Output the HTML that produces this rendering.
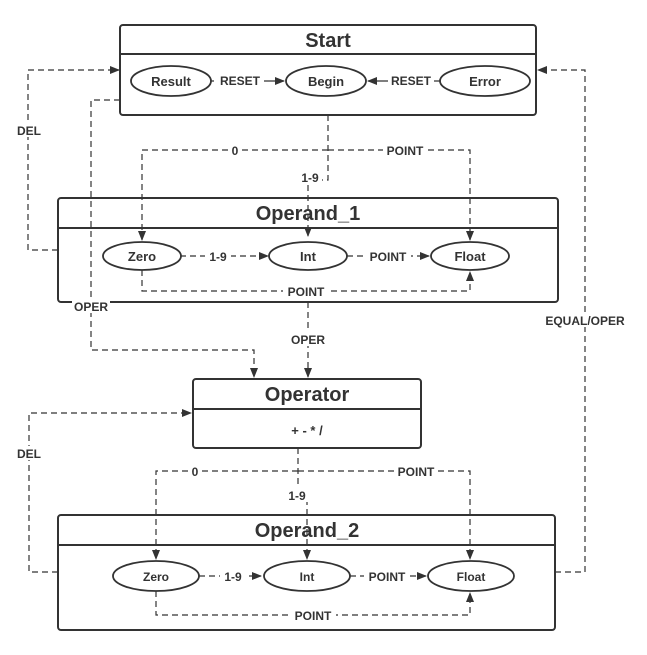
<!DOCTYPE html>
<html><head><meta charset="utf-8"><style>
html,body{margin:0;padding:0;background:#fff;}
svg{display:block;font-family:"Liberation Sans",sans-serif;font-weight:bold;}
</style></head><body>
<svg width="647" height="655" viewBox="0 0 647 655" xmlns="http://www.w3.org/2000/svg">
<defs>
<marker id="a" markerWidth="10" markerHeight="8" refX="9" refY="4" orient="auto" markerUnits="userSpaceOnUse">
<path d="M0,0 L10,4 L0,8 z" fill="#333"/></marker>
</defs>
<g fill="none" stroke="#333" stroke-width="1.2" stroke-dasharray="6,4">
<path d="M58,250 H28 V70 H119" marker-end="url(#a)"/>
<path d="M555,572 H585 V70 H538" marker-end="url(#a)"/>
<path d="M120,100 H91 V350 H254 V377" marker-end="url(#a)"/>
<path d="M328,115 V180 H308 V236" marker-end="url(#a)"/>
<path d="M328,150 H142 V240" marker-end="url(#a)"/>
<path d="M328,150 H470 V240" marker-end="url(#a)"/>
<path d="M180,256 H268" marker-end="url(#a)"/>
<path d="M347,256 H429" marker-end="url(#a)"/>
<path d="M142,270 V291 H470 V272" marker-end="url(#a)"/>
<path d="M308,302 V377" marker-end="url(#a)"/>
<path d="M58,572 H29 V413 H191" marker-end="url(#a)"/>
<path d="M298,448 V490 H307 V559" marker-end="url(#a)"/>
<path d="M298,471 H156 V559" marker-end="url(#a)"/>
<path d="M298,471 H470 V559" marker-end="url(#a)"/>
<path d="M199,576 H261" marker-end="url(#a)"/>
<path d="M350,576 H426" marker-end="url(#a)"/>
<path d="M156,591 V615 H470 V593" marker-end="url(#a)"/>
</g>
<g fill="none" stroke="#333" stroke-width="1.2">
<path d="M131,81 H140" /><path d="M211,81 H284" marker-end="url(#a)"/>
<path d="M440,81 H368" marker-end="url(#a)"/>
</g>
<g fill="#fff" stroke="#333" stroke-width="2">
<rect x="120" y="25" width="416" height="90" rx="3" fill="none"/>
<line x1="120" y1="54" x2="536" y2="54"/>
<rect x="58" y="198" width="500" height="104" rx="3" fill="none"/>
<line x1="58" y1="228" x2="558" y2="228"/>
<rect x="193" y="379" width="228" height="69" rx="3"/>
<line x1="193" y1="409" x2="421" y2="409"/>
<rect x="58" y="515" width="497" height="115" rx="3" fill="none"/>
<line x1="58" y1="545" x2="555" y2="545"/>
</g>
<g fill="#fff" stroke="#333" stroke-width="1.8">
<ellipse cx="171" cy="81" rx="40" ry="15"/>
<ellipse cx="326" cy="81" rx="40" ry="15"/>
<ellipse cx="485" cy="81" rx="45" ry="15"/>
<ellipse cx="142" cy="256" rx="39" ry="14"/>
<ellipse cx="308" cy="256" rx="39" ry="14"/>
<ellipse cx="470" cy="256" rx="39" ry="14"/>
<ellipse cx="156" cy="576" rx="43" ry="15"/>
<ellipse cx="307" cy="576" rx="43" ry="15"/>
<ellipse cx="471" cy="576" rx="43" ry="15"/>
</g>
<g fill="#333" text-anchor="middle">
<text x="328" y="47" font-size="20">Start</text>
<text x="308" y="220" font-size="20">Operand_1</text>
<text x="307" y="401" font-size="20">Operator</text>
<text x="307" y="537" font-size="20">Operand_2</text>
<text x="307" y="435" font-size="13">+ - * /</text>
<g font-size="13">
<text x="171" y="86">Result</text><text x="326" y="86">Begin</text><text x="485" y="86">Error</text>
<text x="142" y="261">Zero</text><text x="308" y="261">Int</text><text x="470" y="261">Float</text>
</g>
<g font-size="12">
<text x="156" y="581">Zero</text><text x="307" y="581">Int</text><text x="471" y="581">Float</text>
</g>
</g>
<g fill="#333" font-size="12" text-anchor="middle">
<rect x="214" y="74" width="50" height="14" fill="#fff"/><text x="240" y="85">RESET</text>
<rect x="388" y="74" width="46" height="14" fill="#fff"/><text x="411" y="85">RESET</text>
<rect x="15" y="123" width="28" height="14" fill="#fff"/><text x="29" y="135">DEL</text>
<rect x="229" y="143" width="12" height="14" fill="#fff"/><text x="235" y="155">0</text>
<rect x="383" y="143" width="44" height="14" fill="#fff"/><text x="405" y="155">POINT</text>
<rect x="298" y="170" width="24" height="14" fill="#fff"/><text x="310" y="182">1-9</text>
<rect x="205" y="249" width="26" height="14" fill="#fff"/><text x="218" y="261">1-9</text>
<rect x="365" y="249" width="46" height="14" fill="#fff"/><text x="388" y="261">POINT</text>
<rect x="283" y="284" width="46" height="14" fill="#fff"/><text x="306" y="296">POINT</text>
<rect x="72" y="299" width="38" height="14" fill="#fff"/><text x="91" y="311">OPER</text>
<rect x="289" y="332" width="38" height="14" fill="#fff"/><text x="308" y="344">OPER</text>
<rect x="538" y="313" width="94" height="14" fill="#fff"/><text x="585" y="325">EQUAL/OPER</text>
<rect x="15" y="446" width="28" height="14" fill="#fff"/><text x="29" y="458">DEL</text>
<rect x="189" y="464" width="12" height="14" fill="#fff"/><text x="195" y="476">0</text>
<rect x="394" y="464" width="44" height="14" fill="#fff"/><text x="416" y="476">POINT</text>
<rect x="285" y="488" width="24" height="14" fill="#fff"/><text x="297" y="500">1-9</text>
<rect x="220" y="569" width="26" height="14" fill="#fff"/><text x="233" y="581">1-9</text>
<rect x="364" y="569" width="46" height="14" fill="#fff"/><text x="387" y="581">POINT</text>
<rect x="290" y="608" width="46" height="14" fill="#fff"/><text x="313" y="620">POINT</text>
</g>
</svg>
</body></html>
